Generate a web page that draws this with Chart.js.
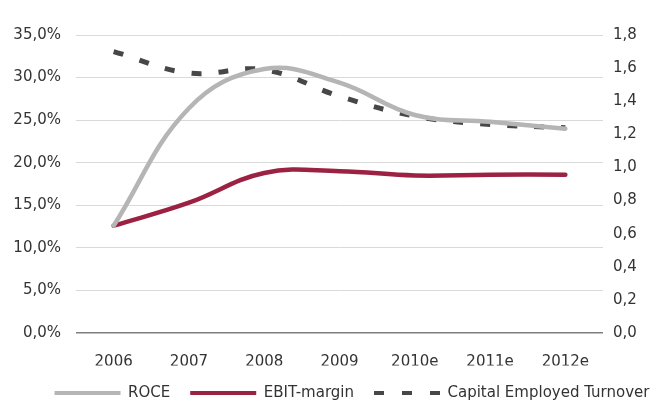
<!DOCTYPE html>
<html>
<head>
<meta charset="utf-8">
<script src="https://cdn.jsdelivr.net/npm/chart.js@4"></script>
<style>
html,body{margin:0;padding:0;background:#fff;}
#wrap{width:668px;height:407px;position:relative;}
</style>
</head>
<body>
<div id="wrap"><canvas id="c" width="668" height="407"></canvas></div>
<script>
const years = ['2006','2007','2008','2009','2010e','2011e','2012e'];
const roce = [12.6, 26.4, 31.0, 29.4, 25.6, 24.8, 24.0];
const ebitMargin = [12.6, 15.3, 18.8, 19.0, 18.5, 18.6, 18.6];
const capitalTurnover = [1.70, 1.57, 1.59, 1.43, 1.31, 1.26, 1.24];
const leftTicks = [0,5,10,15,20,25,30,35];
const rightTicks = [0,0.2,0.4,0.6,0.8,1.0,1.2,1.4,1.6,1.8];

Chart.defaults.font.family = '"DejaVu Sans", sans-serif';
Chart.defaults.font.size = 15;
Chart.defaults.color = '#333333';

const legendTweak = {
  id:'legendTweak',
  afterInit(chart){
    const lg = chart.legend;
    if (!lg) return;
    const origFit = lg.fit;
    lg.fit = function(){ origFit.call(this); this.height = 41.5; };
    const origDraw = lg.draw;
    lg.draw = function(){
      const ctx = this.ctx;
      ctx.save();
      ctx.translate(18, 0);
      origDraw.apply(this, arguments);
      ctx.restore();
    };
  }
};

new Chart(document.getElementById('c'), {
  type: 'line',
  data: {
    labels: years,
    datasets: [
      {label:'ROCE', data: roce, yAxisID:'y', borderColor:'#b5b5b5', backgroundColor:'#b5b5b5', borderWidth:4.5, tension:0.4, pointRadius:0, pointStyle:'line', borderCapStyle:'round'},
      {label:'EBIT-margin', data: ebitMargin, yAxisID:'y', borderColor:'#9c2243', backgroundColor:'#9c2243', borderWidth:4.5, tension:0.4, pointRadius:0, pointStyle:'line', borderCapStyle:'round'},
      {label:'Capital Employed Turnover', data: capitalTurnover, yAxisID:'y1', borderColor:'#474747', backgroundColor:'#474747', borderWidth:5, borderDash:[10,17], tension:0.4, pointRadius:0, pointStyle:'line'}
    ]
  },
  plugins:[legendTweak],
  options: {
    responsive:false,
    animation:false,
    layout:{padding:{top:35,left:0,right:0,bottom:0}},
    plugins:{
      tooltip:{enabled:false},
      legend:{
        position:'bottom',
        labels:{
          usePointStyle:true, pointStyleWidth:66, padding:20, color:'#333333', font:{size:15},
          generateLabels(chart){
            const items = Chart.defaults.plugins.legend.labels.generateLabels(chart);
            items.forEach((it,i)=>{
              it.lineWidth = 4;
              it.lineDash = i===2 ? [10,18] : [];
            });
            return items;
          }
        }
      }
    },
    scales:{
      x:{
        offset:true,
        grid:{display:false},
        border:{display:false},
        ticks:{padding:12, color:'#333333'},
        afterFit(s){ s.height = 32.5; }
      },
      y:{
        position:'left', min:0, max:35,
        afterBuildTicks(s){ s.ticks = leftTicks.map(v=>({value:v})); },
        ticks:{padding:15, callback:v=>v.toFixed(1).replace('.',',')+'%', color:'#333333'},
        grid:{color:ctx=>ctx.tick && ctx.tick.value===0 ? '#7f7f7f' : '#d9d9d9', lineWidth:ctx=>ctx.tick && ctx.tick.value===0 ? 1.5 : 1, drawTicks:false},
        border:{display:false},
        afterFit(s){ s.width = 76; }
      },
      y1:{
        position:'right', min:0, max:1.8,
        afterBuildTicks(s){ s.ticks = rightTicks.map(v=>({value:v})); },
        ticks:{padding:10, callback:v=>v.toFixed(1).replace('.',','), color:'#333333'},
        grid:{display:false, drawTicks:false},
        border:{display:false},
        afterFit(s){ s.width = 65; }
      }
    }
  }
});
</script>
</body>
</html>
